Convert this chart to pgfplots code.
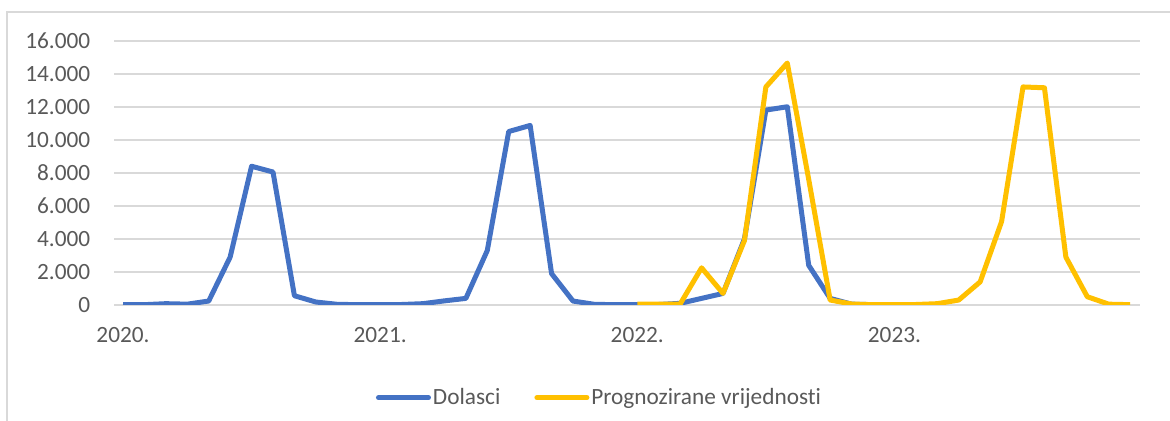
\documentclass[border=0pt]{standalone}
\usepackage{fontspec}
\setmainfont{Carlito}[Ligatures={NoCommon}]
\usepackage{pgfplots}
\pgfplotsset{compat=1.18}
\definecolor{cblue}{HTML}{4472C4}
\definecolor{cyel}{HTML}{FFC000}
\definecolor{cgrid}{HTML}{D9D9D9}
\definecolor{ctext}{HTML}{595959}
\begin{document}
\fontsize{11.65}{14}\selectfont
\begin{tikzpicture}
\path[use as bounding box] (-57pt,-58pt) rectangle (528pt,152.5pt);
\draw[cgrid, line width=0.75pt] (-53.5pt,-60pt) -- (-53.5pt,146.5pt) -- (530pt,146.5pt);
\begin{axis}[
  scale only axis, width=513pt, height=132.15pt,
  xmin=-0.42, xmax=47.46, ymin=0, ymax=16000,
  axis line style={draw=none},
  major tick length=0pt,
  ymajorgrids, grid style={cgrid, line width=1pt},
  xtick={0,12,24,36}, xticklabels={2020.,2021.,2022.,2023.},
  ytick={0,2000,...,16000},
  scaled y ticks=false,
  /pgf/number format/.cd, 1000 sep={.}, assume math mode=true, /pgfplots/.cd,
  tick label style={font=\fontsize{11.65}{14}\selectfont, text=ctext},
  xticklabel style={anchor=base, yshift=-19pt},
  yticklabel style={anchor=east, inner sep=0pt, xshift=-11.65pt},
  legend style={at={(0.4732,-0.3507)}, anchor=center, draw=none, fill=none,
    font=\fontsize{11.65}{14}\selectfont, text=ctext,
    nodes={inner sep=1pt},
    /tikz/every even column/.append style={column sep=16pt}},
  legend columns=2,
  legend image code/.code={\draw[#1, line cap=round] (0pt,0pt) -- (25pt,0pt);},
]
\addplot[cblue, line width=2.5pt, line join=round] coordinates {
(0,30) (1,20) (2,80) (3,50) (4,240) (5,2900) (6,8400) (7,8050) (8,560) (9,180) (10,40) (11,20)
(12,30) (13,30) (14,80) (15,250) (16,400) (17,3300) (18,10500) (19,10870) (20,1900) (21,240) (22,40) (23,20)
(24,20) (25,30) (26,100) (27,400) (28,700) (29,4000) (30,11800) (31,12000) (32,2400) (33,400) (34,50) (35,20)
};
\addlegendentry{Dolasci}
\addplot[cyel, line width=2.5pt, line join=round] coordinates {
(24,50) (25,50) (26,60) (27,2250) (28,700) (29,3900) (30,13200) (31,14650) (32,7600) (33,300) (34,60) (35,20)
(36,20) (37,30) (38,80) (39,300) (40,1400) (41,5050) (42,13200) (43,13150) (44,2900) (45,500) (46,50) (47,20)
};
\addlegendentry{Prognozirane vrijednosti}
\end{axis}
\end{tikzpicture}
\end{document}
